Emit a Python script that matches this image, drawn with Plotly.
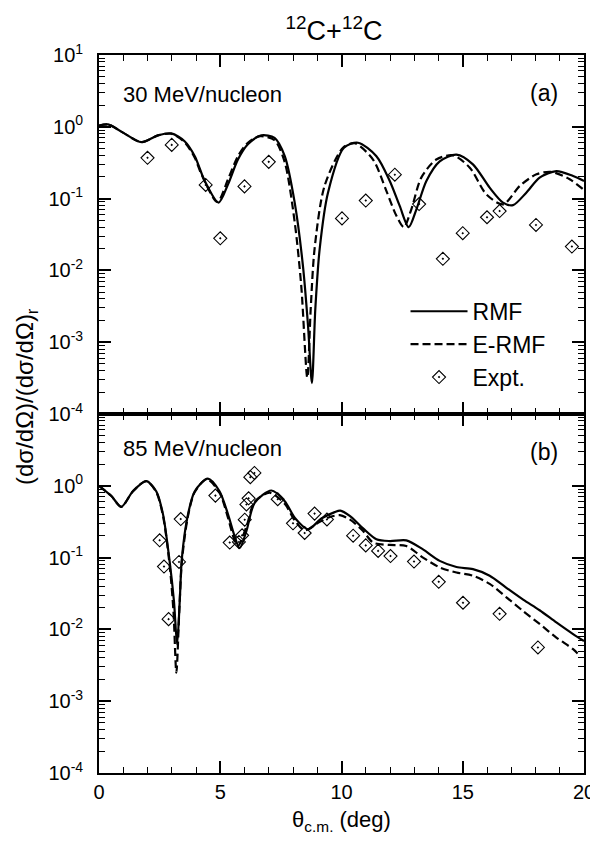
import plotly.graph_objects as go

# ---------------- data: 30 MeV/nucleon (panel a) ----------------
rmf_a_x = [0, 0.37, 0.99, 1.75, 2.43, 2.98, 3.53, 3.95, 4.36, 4.93, 5.32, 5.73, 6.14, 6.69,
           7.24, 7.66, 8.07, 8.41, 8.62, 8.78, 8.92, 9.1, 9.44, 10.1, 10.68, 11.44, 11.99,
           12.4, 12.77, 13.09, 13.5, 14.05, 14.74, 15.42, 16.11, 16.66, 17.07, 17.62, 18.17,
           18.86, 19.55, 20.0]
rmf_a_y = [1.04, 1.08, 0.83, 0.61, 0.76, 0.81, 0.63, 0.39, 0.176, 0.088, 0.158, 0.35, 0.57, 0.76,
           0.70, 0.39, 0.088, 0.0116, 0.0017, 2.7e-4, 0.0029, 0.020, 0.12, 0.51, 0.60, 0.39, 0.176,
           0.079, 0.040, 0.071, 0.176, 0.33, 0.41, 0.30, 0.142, 0.088, 0.081, 0.121, 0.196,
           0.242, 0.206, 0.176]

ermf_a_x = [0, 0.37, 0.99, 1.75, 2.43, 2.98, 3.53, 3.95, 4.22, 4.88, 5.32, 5.73, 6.14, 6.63,
            7.24, 7.66, 8.07, 8.34, 8.59, 8.73, 8.89, 9.3, 10.06, 10.54, 11.3, 11.85, 12.26,
            12.57, 12.88, 13.29, 13.91, 14.6, 15.29, 15.97, 16.66, 17.35, 18.04, 18.65, 19.41,
            19.96]
ermf_a_y = [1.04, 1.08, 0.83, 0.61, 0.76, 0.80, 0.61, 0.37, 0.22, 0.090, 0.185, 0.39, 0.60, 0.74,
            0.65, 0.32, 0.047, 0.0061, 3.2e-4, 0.0029, 0.020, 0.15, 0.51, 0.59, 0.35, 0.128, 0.058,
            0.040, 0.071, 0.196, 0.35, 0.40, 0.27, 0.115, 0.083, 0.15, 0.218, 0.235, 0.186,
            0.135]

expt_a_x = [2.0, 3.0, 4.4, 5.0, 6.0, 7.0, 10.02, 11.0, 12.2, 13.2, 14.18, 15.0, 16.0, 16.52,
            18.02, 19.5]
expt_a_y = [0.37, 0.56, 0.155, 0.028, 0.148, 0.325, 0.053, 0.094, 0.215, 0.084, 0.0145, 0.033,
            0.055, 0.067, 0.043, 0.0215]

# ---------------- data: 85 MeV/nucleon (panel b) ----------------
rmf_b_x = [0, 0.51, 0.92, 1.40, 1.95, 2.36, 2.64, 2.91, 3.09, 3.22, 3.33, 3.42, 3.67, 3.95,
           4.49, 4.97, 5.32, 5.59, 5.80, 6.08, 6.42, 7.11, 7.66, 8.07, 8.62, 9.17, 9.72, 9.95,
           10.34, 10.89, 11.44, 11.99, 12.67, 13.36, 14.05, 14.74, 15.42, 16.11, 16.8, 17.49,
           18.17, 18.86, 19.55, 20.0]
rmf_b_y = [1.0, 0.72, 0.51, 0.84, 1.16, 0.84, 0.40, 0.090, 0.025, 0.0062, 0.025, 0.10, 0.40, 0.84,
           1.26, 0.84, 0.40, 0.20, 0.135, 0.235, 0.58, 0.86, 0.61, 0.36, 0.248, 0.35, 0.43, 0.45,
           0.38, 0.255, 0.18, 0.17, 0.174, 0.13, 0.090, 0.074, 0.069, 0.056, 0.038, 0.026,
           0.0185, 0.0125, 0.0086, 0.0069]

ermf_b_x = [0, 0.51, 0.92, 1.40, 1.95, 2.36, 2.64, 2.91, 3.07, 3.19, 3.31, 3.42, 3.67, 3.95,
            4.45, 4.97, 5.32, 5.55, 5.73, 6.08, 6.42, 7.04, 7.66, 8.07, 8.48, 9.0, 9.44, 9.93,
            10.34, 10.89, 11.3, 11.99, 12.67, 13.36, 14.05, 14.74, 15.42, 16.11, 16.8, 17.49,
            18.17, 18.86, 19.55, 19.82]
ermf_b_y = [1.0, 0.72, 0.51, 0.84, 1.16, 0.82, 0.38, 0.080, 0.018, 0.0025, 0.018, 0.09, 0.38, 0.82,
            1.24, 0.80, 0.36, 0.19, 0.145, 0.27, 0.60, 0.80, 0.56, 0.33, 0.24, 0.30, 0.36, 0.39,
            0.34, 0.235, 0.162, 0.15, 0.145, 0.10, 0.073, 0.062, 0.056, 0.043, 0.028, 0.018,
            0.0119, 0.0077, 0.0053, 0.0043]

expt_b_x = [2.50, 2.68, 2.87, 3.37, 3.30, 4.80, 5.39, 5.77, 5.90, 6.01, 6.08, 6.17, 6.24, 6.41,
            7.37, 8.0, 8.48, 8.89, 9.40, 10.48, 11.0, 11.51, 12.02, 12.99, 14.01, 15.01, 16.52,
            18.1]
expt_b_y = [0.174, 0.075, 0.0139, 0.344, 0.087, 0.73, 0.162, 0.165, 0.204, 0.337, 0.55, 0.67,
            1.32, 1.51, 0.65, 0.30, 0.22, 0.41, 0.34, 0.202, 0.148, 0.124, 0.105, 0.088, 0.046,
            0.0235, 0.0165, 0.0056]

# ---------------- tick labels ----------------
decade_vals = [1e-4, 1e-3, 1e-2, 1e-1, 1e0, 1e1]
decade_text_top = ["10<sup>-4</sup>", "10<sup>-3</sup>", "10<sup>-2</sup>", "10<sup>-1</sup>",
                   "10<sup>0</sup>", "10<sup>1</sup>"]
decade_text_bot = ["10<sup>-4</sup>", "10<sup>-3</sup>", "10<sup>-2</sup>", "10<sup>-1</sup>",
                   "10<sup>0</sup>", ""]
minor_vals = [k * 10.0 ** e for e in range(-4, 1) for k in range(2, 10)]
x_tick_vals = [0, 5, 10, 15, 20]

FONT = "Liberation Sans, Arial, sans-serif"
SOLID_W = 2.2
DASH = "8px,4px"
MARKER = dict(symbol="diamond-open-dot", size=10, color="black",
              line=dict(width=1.1, color="black"))

# the page body adds an 8 px offset, so the figure is 8 px smaller than the window
W, H = 590, 842

fig = go.Figure()

# top panel (a)
fig.add_trace(go.Scatter(x=rmf_a_x, y=rmf_a_y, mode="lines", name="RMF",
                         line=dict(color="black", width=SOLID_W, shape="spline", smoothing=0.8),
                         xaxis="x2", yaxis="y2"))
fig.add_trace(go.Scatter(x=ermf_a_x, y=ermf_a_y, mode="lines", name="E-RMF",
                         line=dict(color="black", width=SOLID_W, dash=DASH, shape="spline",
                                   smoothing=0.8),
                         xaxis="x2", yaxis="y2"))
fig.add_trace(go.Scatter(x=expt_a_x, y=expt_a_y, mode="markers", name="Expt.", marker=MARKER,
                         xaxis="x2", yaxis="y2"))

# bottom panel (b)
fig.add_trace(go.Scatter(x=rmf_b_x, y=rmf_b_y, mode="lines", name="RMF", showlegend=False,
                         line=dict(color="black", width=SOLID_W, shape="spline", smoothing=0.8),
                         xaxis="x", yaxis="y"))
fig.add_trace(go.Scatter(x=ermf_b_x, y=ermf_b_y, mode="lines", name="E-RMF", showlegend=False,
                         line=dict(color="black", width=SOLID_W, dash=DASH, shape="spline",
                                   smoothing=0.8),
                         xaxis="x", yaxis="y"))
fig.add_trace(go.Scatter(x=expt_b_x, y=expt_b_y, mode="markers", name="Expt.", showlegend=False,
                         marker=MARKER, xaxis="x", yaxis="y"))

common_x = dict(range=[0, 20], tickvals=x_tick_vals, ticks="inside", ticklen=12, tickwidth=1.5,
                tickcolor="black", showline=True, linecolor="black", linewidth=1.8,
                mirror="ticks", showgrid=False, zeroline=False, automargin=False,
                minor=dict(dtick=1, tick0=0, ticks="inside", ticklen=6, tickwidth=1.3,
                           tickcolor="black", showgrid=False),
                tickfont=dict(family=FONT, size=20, color="black"))
common_y = dict(type="log", range=[-4, 1], tickvals=decade_vals, ticks="inside", ticklen=12,
                tickwidth=1.5, tickcolor="black", showline=True, linecolor="black",
                linewidth=1.8, mirror="ticks", showgrid=False, zeroline=False, automargin=False,
                ticklabelstandoff=10,
                minor=dict(tickmode="array", tickvals=minor_vals, ticks="inside", ticklen=6,
                           tickwidth=1.2, tickcolor="black", showgrid=False),
                tickfont=dict(family=FONT, size=20, color="black"))

fig.update_layout(
    width=W, height=H,
    margin=dict(l=91, r=14, t=47, b=77),
    paper_bgcolor="white", plot_bgcolor="white",
    font=dict(family=FONT, color="black"),
    title=dict(text="<sup>12</sup>C+<sup>12</sup>C", x=326 / W, xanchor="center",
               y=1 - 23 / H, yanchor="middle",
               font=dict(family=FONT, size=27, color="black")),
    xaxis=dict(**common_x, anchor="y", domain=[0, 1],
               title=dict(text="θ<sub>c.m.</sub> (deg)", font=dict(family=FONT, size=22),
                          standoff=10)),
    xaxis2=dict(**common_x, anchor="y2", domain=[0, 1], matches="x", showticklabels=False),
    yaxis=dict(**common_y, anchor="x", domain=[0, 0.5], ticktext=decade_text_bot),
    yaxis2=dict(**common_y, anchor="x2", domain=[0.5, 1], ticktext=decade_text_top),
    legend=dict(x=0.632, y=0.673, xanchor="left", yanchor="top", bgcolor="rgba(0,0,0,0)",
                font=dict(family=FONT, size=23, color="black"), itemwidth=57,
                tracegroupgap=0),
    showlegend=True,
    annotations=[
        dict(text="(dσ/dΩ)/(dσ/dΩ)<sub>r</sub>", xref="paper", yref="paper",
             x=(26 - 99) / 485, y=(773 - 397) / 718, xanchor="center", yanchor="middle",
             textangle=-90, showarrow=False, font=dict(family=FONT, size=24, color="black")),
        dict(text="30 MeV/nucleon", xref="x2 domain", yref="y2 domain", x=0.046, y=0.889,
             xanchor="left", yanchor="middle", showarrow=False,
             font=dict(family=FONT, size=22, color="black")),
        dict(text="(a)", xref="x2 domain", yref="y2 domain", x=0.950, y=0.894,
             xanchor="right", yanchor="middle", showarrow=False,
             font=dict(family=FONT, size=23, color="black")),
        dict(text="85 MeV/nucleon", xref="x domain", yref="y domain", x=0.046, y=0.905,
             xanchor="left", yanchor="middle", showarrow=False,
             font=dict(family=FONT, size=22, color="black")),
        dict(text="(b)", xref="x domain", yref="y domain", x=0.950, y=0.894,
             xanchor="right", yanchor="middle", showarrow=False,
             font=dict(family=FONT, size=23, color="black")),
    ],
)

fig.write_html("out.html")
